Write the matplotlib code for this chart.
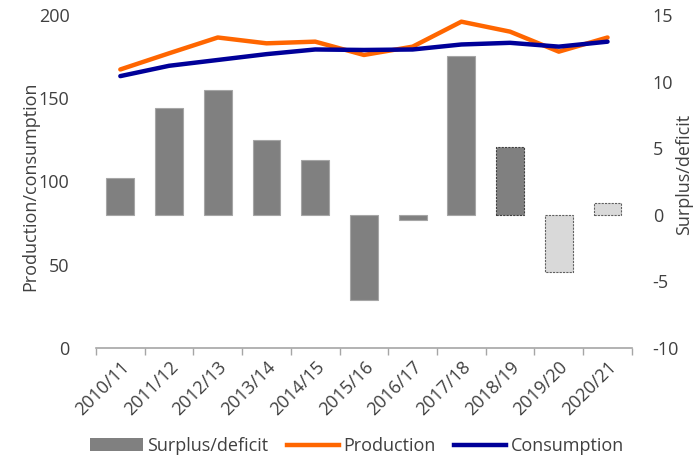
import matplotlib
matplotlib.use("Agg")
import matplotlib.pyplot as plt
from matplotlib.patches import Patch
from matplotlib.lines import Line2D

plt.rcParams['font.family'] = ['Open Sans', 'DejaVu Sans']
plt.rcParams['axes.unicode_minus'] = False

seasons = ["2010/11", "2011/12", "2012/13", "2013/14", "2014/15", "2015/16",
           "2016/17", "2017/18", "2018/19", "2019/20", "2020/21"]
surplus = [2.8, 8.0, 9.4, 5.6, 4.1, -6.4, -0.4, 11.9, 5.1, -4.3, 0.9]
production = [167.3, 177.0, 186.5, 183.0, 184.0, 176.0, 181.0, 196.0, 190.0, 178.0, 186.5]
consumption = [163.3, 169.5, 173.0, 176.5, 179.3, 179.0, 179.3, 182.3, 183.3, 181.0, 184.0]
# 0 = reported, 1 = estimate, 2 = forecast
status = [0, 0, 0, 0, 0, 0, 0, 0, 1, 2, 2]

FS = 13
TXT = "#404040"

fig = plt.figure(figsize=(6.99, 4.55), dpi=100)
ax = fig.add_axes([0.1373, 0.2352, 0.7667, 0.7318])
ax2 = ax.twinx()

x = list(range(len(seasons)))

# surplus/deficit bars on the right axis, drawn behind the lines
for xi, v, s in zip(x, surplus, status):
    if s == 0:
        ax2.bar(xi, v, width=0.57, color="#808080", edgecolor="#a6a6a6", linewidth=0.8, zorder=2)
    elif s == 1:
        ax2.bar(xi, v, width=0.57, color="#808080", edgecolor="#404040", linewidth=0.8,
                linestyle=(0, (2, 1)), zorder=2)
    else:
        ax2.bar(xi, v, width=0.57, color="#d9d9d9", edgecolor="#606060", linewidth=0.8,
                linestyle=(0, (2, 1)), zorder=2)

ax.set_zorder(ax2.get_zorder() + 1)
ax.patch.set_visible(False)
ax.plot(x, production, color="#ff6600", linewidth=3.2, solid_capstyle="round", zorder=3)
ax.plot(x, consumption, color="#000099", linewidth=3.2, solid_capstyle="round", zorder=4)

ax.set_xlim(-0.5, len(seasons) - 0.5)
ax.set_ylim(0, 200)
ax.set_yticks([0, 50, 100, 150, 200])
ax2.set_ylim(-10, 15)
ax2.set_yticks([-10, -5, 0, 5, 10, 15])

ax.set_xticks(x)
ax.set_xticklabels(seasons, rotation=45, ha="right", rotation_mode="anchor", fontsize=FS,
                   color=TXT)
ax.set_xticks([i - 0.5 for i in range(len(seasons) + 1)], minor=True)
ax.tick_params(axis="x", which="major", length=0, pad=7)
ax.tick_params(axis="x", which="minor", length=5, color="#a6a6a6", width=1)
ax.tick_params(axis="y", length=0, labelsize=FS, labelcolor=TXT, pad=19)
ax2.tick_params(axis="y", length=0, labelsize=FS, labelcolor=TXT, pad=15)

for a in (ax, ax2):
    for side in ("top", "left", "right", "bottom"):
        a.spines[side].set_visible(False)
ax.spines["bottom"].set_visible(True)
ax.spines["bottom"].set_color("#a6a6a6")
ax.spines["bottom"].set_linewidth(1.2)

ax.set_ylabel("Production/consumption", fontsize=FS, color=TXT, va="center")
ax.yaxis.set_label_coords(-0.123, 0.485)
ax2.set_ylabel("Surplus/deficit", fontsize=FS, color=TXT, va="center")
ax2.yaxis.set_label_coords(1.098, 0.52)

handles = [Patch(facecolor="#808080", edgecolor="none"),
           Line2D([], [], color="#ff6600", linewidth=3.2),
           Line2D([], [], color="#000099", linewidth=3.2)]
fig.legend(handles, ["Surplus/deficit", "Production", "Consumption"],
           loc="center", bbox_to_anchor=(0.511, 0.02), ncol=3, frameon=False,
           fontsize=FS, handlelength=2.9, handletextpad=0.25, columnspacing=1.0,
           labelcolor=TXT)

fig.savefig("out.png", dpi=100)
